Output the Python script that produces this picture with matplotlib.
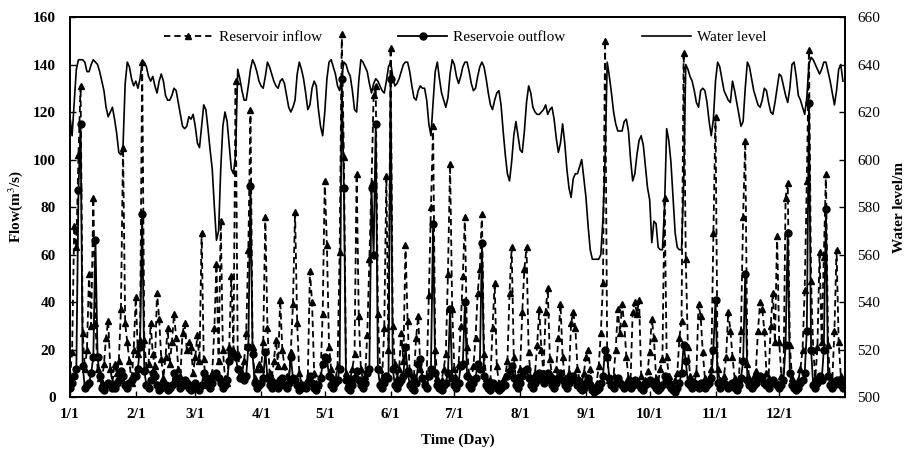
import matplotlib
matplotlib.use("Agg")
import matplotlib.pyplot as plt
from matplotlib.ticker import FixedLocator

plt.rcParams['font.family'] = ['Liberation Serif', 'DejaVu Serif']
plt.rcParams['mathtext.fontset'] = 'stix'

month_labels = ["1/1", "2/1", "3/1", "4/1", "5/1", "6/1", "7/1", "8/1", "9/1", "10/1", "11/1", "12/1"]
month_start_days = [0, 31, 59, 90, 120, 151, 181, 212, 243, 273, 304, 334]

# Reservoir inflow (m3/s), daily, Jan..Dec
inflow_jan = [8, 19, 72, 63, 102, 131, 27, 12, 20, 52, 30, 84, 31, 12, 8, 6, 14, 25, 32, 12, 6, 14, 10, 15, 37, 105, 31, 23, 15, 6, 20]
inflow_feb = [42, 18, 24, 141, 24, 12, 14, 31, 18, 13, 44, 33, 16, 8, 17, 29, 14, 23, 35, 25, 12, 9, 27, 31, 20, 23, 21, 10]
inflow_mar = [17, 26, 15, 69, 16, 6, 5, 8, 10, 29, 56, 15, 74, 20, 8, 6, 21, 51, 20, 133, 18, 12, 10, 15, 27, 62, 121, 21, 8, 12, 14]
inflow_apr = [12, 23, 76, 29, 10, 8, 15, 24, 13, 41, 20, 13, 9, 7, 19, 39, 78, 31, 10, 6, 5, 6, 8, 53, 40, 10, 6, 5, 9, 35]
inflow_may = [91, 64, 21, 12, 8, 7, 13, 61, 153, 101, 10, 6, 8, 12, 18, 94, 34, 12, 7, 9, 26, 58, 90, 127, 131, 35, 12, 8, 29, 93, 20]
inflow_jun = [147, 30, 14, 8, 12, 27, 15, 64, 32, 10, 7, 9, 25, 34, 12, 8, 6, 9, 43, 80, 114, 20, 8, 6, 7, 12, 18, 52, 98, 37]
inflow_jul = [12, 8, 14, 30, 51, 76, 21, 9, 7, 13, 25, 44, 54, 77, 18, 8, 6, 7, 29, 48, 13, 6, 5, 7, 9, 15, 44, 63, 17, 7, 9]
inflow_aug = [12, 36, 54, 63, 19, 8, 7, 10, 22, 37, 20, 10, 36, 46, 16, 9, 8, 12, 25, 39, 17, 8, 7, 10, 31, 36, 29, 12, 7, 6, 10]
inflow_sep = [17, 20, 12, 5, 4, 6, 13, 27, 48, 150, 17, 7, 6, 9, 20, 37, 27, 39, 31, 17, 8, 7, 36, 40, 35, 41, 9, 6, 7, 11]
inflow_oct = [19, 33, 25, 8, 6, 12, 16, 84, 17, 9, 6, 5, 7, 10, 25, 32, 145, 58, 21, 9, 7, 6, 10, 39, 34, 19, 8, 6, 7, 12, 69]
inflow_nov = [118, 12, 7, 6, 9, 17, 36, 28, 17, 8, 6, 7, 28, 76, 108, 14, 8, 6, 9, 11, 28, 40, 37, 28, 10, 8, 30, 44, 23, 68]
inflow_dec = [23, 9, 7, 84, 90, 22, 8, 6, 5, 7, 12, 20, 45, 91, 146, 49, 20, 8, 21, 61, 23, 59, 94, 22, 6, 7, 28, 62, 23, 9, 6]

# Reservoir outflow (m3/s), daily
outflow_jan = [4, 6, 9, 12, 87, 115, 13, 4, 5, 6, 10, 17, 66, 17, 9, 4, 3, 5, 6, 5, 4, 4, 6, 7, 11, 9, 5, 4, 6, 7, 9]
outflow_feb = [9, 12, 21, 77, 11, 5, 4, 7, 10, 9, 5, 3, 4, 6, 5, 3, 4, 5, 10, 8, 6, 4, 5, 7, 6, 4, 3, 5]
outflow_mar = [6, 4, 3, 5, 10, 8, 5, 4, 6, 9, 10, 8, 6, 4, 5, 7, 15, 19, 18, 17, 12, 8, 9, 7, 9, 21, 89, 18, 6, 4, 5]
outflow_apr = [6, 8, 19, 8, 5, 4, 6, 5, 4, 7, 8, 5, 4, 6, 17, 8, 7, 5, 3, 4, 5, 4, 6, 9, 6, 4, 3, 5, 8, 14]
outflow_may = [17, 16, 9, 5, 4, 6, 7, 12, 134, 88, 7, 4, 3, 5, 8, 11, 7, 5, 4, 6, 10, 12, 88, 60, 115, 12, 5, 4, 6, 9, 8]
outflow_jun = [134, 12, 5, 4, 6, 7, 9, 21, 11, 5, 4, 3, 6, 14, 16, 8, 5, 4, 9, 12, 73, 10, 5, 4, 3, 5, 6, 10, 37, 8]
outflow_jul = [5, 4, 6, 13, 14, 40, 9, 5, 4, 6, 8, 14, 12, 65, 9, 5, 4, 3, 6, 5, 4, 3, 4, 6, 5, 9, 11, 13, 8, 5, 4]
outflow_aug = [6, 9, 11, 12, 8, 5, 4, 6, 7, 10, 8, 6, 8, 10, 7, 5, 4, 6, 8, 10, 7, 5, 4, 6, 8, 9, 7, 5, 4, 3, 4]
outflow_sep = [6, 8, 5, 3, 2, 3, 4, 6, 9, 20, 17, 8, 5, 4, 6, 8, 6, 5, 4, 5, 6, 4, 5, 7, 6, 5, 4, 3, 5, 6]
outflow_oct = [7, 6, 5, 4, 3, 4, 5, 9, 7, 5, 4, 3, 2, 4, 6, 10, 22, 15, 6, 5, 4, 6, 5, 4, 6, 5, 4, 5, 6, 8, 20]
outflow_nov = [41, 6, 4, 5, 6, 5, 4, 5, 6, 4, 3, 5, 8, 15, 52, 7, 5, 4, 5, 6, 8, 9, 8, 6, 5, 4, 6, 7, 6, 5]
outflow_dec = [4, 5, 7, 22, 69, 10, 5, 4, 3, 4, 6, 7, 10, 28, 124, 20, 5, 4, 6, 9, 7, 20, 79, 9, 5, 4, 5, 7, 6, 5, 4]

# Water level (m), daily
level_jan = [618, 610, 624, 638, 642, 642, 642, 641, 637, 637, 640, 642, 641, 640, 637, 633, 629, 622, 618, 620, 622, 617, 611, 603, 602, 606, 632, 641, 639, 634, 631]
level_feb = [633, 630, 634, 641, 641, 639, 635, 633, 635, 631, 628, 633, 636, 633, 627, 625, 625, 627, 630, 629, 624, 619, 614, 613, 614, 618, 617, 619]
level_mar = [614, 607, 605, 614, 623, 621, 613, 604, 596, 580, 566, 570, 596, 614, 620, 616, 606, 596, 594, 602, 638, 634, 629, 625, 625, 631, 638, 642, 640, 637, 633]
level_apr = [631, 630, 635, 641, 639, 636, 633, 631, 630, 633, 634, 632, 627, 622, 620, 622, 625, 636, 641, 638, 634, 628, 621, 623, 630, 633, 631, 621, 614, 610]
level_may = [620, 634, 641, 642, 639, 636, 631, 629, 635, 641, 640, 637, 635, 629, 621, 620, 633, 642, 641, 639, 637, 632, 628, 632, 634, 633, 631, 629, 628, 633, 639]
level_jun = [641, 635, 631, 632, 634, 637, 640, 641, 641, 637, 631, 626, 625, 629, 631, 630, 630, 625, 615, 610, 624, 637, 641, 634, 628, 625, 622, 626, 636, 642]
level_jul = [640, 635, 632, 635, 639, 641, 641, 637, 632, 629, 630, 635, 639, 641, 639, 634, 628, 623, 621, 625, 628, 629, 623, 612, 602, 594, 591, 599, 610, 616, 610]
level_aug = [604, 603, 612, 624, 631, 628, 622, 620, 619, 619, 620, 621, 623, 619, 621, 622, 617, 609, 603, 607, 615, 607, 596, 588, 584, 592, 594, 594, 597, 600, 592]
level_sep = [584, 572, 562, 558, 558, 558, 558, 560, 575, 600, 641, 635, 628, 620, 615, 612, 612, 612, 616, 617, 612, 600, 591, 594, 602, 608, 610, 606, 597, 588]
level_oct = [583, 565, 574, 573, 563, 562, 562, 580, 613, 608, 599, 584, 569, 563, 562, 562, 590, 640, 638, 635, 633, 629, 624, 622, 629, 630, 629, 624, 616, 610, 617]
level_nov = [633, 641, 639, 634, 629, 627, 625, 624, 633, 629, 624, 619, 614, 616, 630, 641, 639, 634, 629, 626, 623, 622, 625, 630, 629, 624, 620, 619, 624, 630]
level_dec = [636, 635, 631, 627, 624, 630, 640, 641, 635, 627, 625, 622, 619, 626, 640, 643, 642, 640, 638, 636, 638, 641, 641, 637, 633, 628, 623, 629, 638, 640, 633]

inflow = (inflow_jan + inflow_feb + inflow_mar + inflow_apr + inflow_may + inflow_jun +
          inflow_jul + inflow_aug + inflow_sep + inflow_oct + inflow_nov + inflow_dec)
outflow = (outflow_jan + outflow_feb + outflow_mar + outflow_apr + outflow_may + outflow_jun +
           outflow_jul + outflow_aug + outflow_sep + outflow_oct + outflow_nov + outflow_dec)
water_level = (level_jan + level_feb + level_mar + level_apr + level_may + level_jun +
               level_jul + level_aug + level_sep + level_oct + level_nov + level_dec)
days = list(range(len(inflow)))

fig = plt.figure(figsize=(9.11, 4.51), dpi=100)
ax = fig.add_axes([0.0768, 0.1197, 0.8508, 0.8426])
ax2 = ax.twinx()

l1, = ax.plot(days, inflow, color='black', linestyle=(0, (3.5, 2.2)), linewidth=1.3,
              marker='^', markersize=4.8, label='Reservoir inflow')
l2, = ax.plot(days, outflow, color='black', linestyle='-', linewidth=1.3,
              marker='o', markersize=5.0, label='Reservoie outflow')
l3, = ax2.plot(days, water_level, color='black', linestyle='-', linewidth=1.2,
               label='Water level')

ax.set_xlim(0, 365)
ax.set_ylim(0, 160)
ax2.set_ylim(500, 660)
ax.yaxis.set_major_locator(FixedLocator(list(range(0, 161, 20))))
ax2.yaxis.set_major_locator(FixedLocator(list(range(500, 661, 20))))
ax.set_xticks(month_start_days)
ax.set_xticklabels(month_labels)

for lab in ax.get_xticklabels() + ax.get_yticklabels():
    lab.set_fontweight('bold')
    lab.set_fontsize(11)
for lab in ax2.get_yticklabels():
    lab.set_fontsize(11)

ax.tick_params(axis='x', direction='in', length=4, width=1, pad=8)
ax.tick_params(axis='y', direction='in', length=4, width=1, pad=10)
ax2.tick_params(axis='y', direction='in', length=4, width=1, pad=9)
for a in (ax, ax2):
    for s in a.spines.values():
        s.set_linewidth(1.3)

ax.set_xlabel('Time (Day)', fontsize=11, fontweight='bold', labelpad=9)
ax.set_ylabel('Flow(m$^3$/s)', fontsize=11, fontweight='bold', labelpad=6)
ax2.set_ylabel('Water level/m', fontsize=11, fontweight='bold', labelpad=9)

leg = ax.legend(handles=[l1, l2, l3], loc='upper center', ncol=3, frameon=False,
                fontsize=11, handlelength=3.2, columnspacing=5.0,
                bbox_to_anchor=(0.51, 1.0), handletextpad=0.4)
leg.set_zorder(10)

fig.savefig('out.png', dpi=100)
